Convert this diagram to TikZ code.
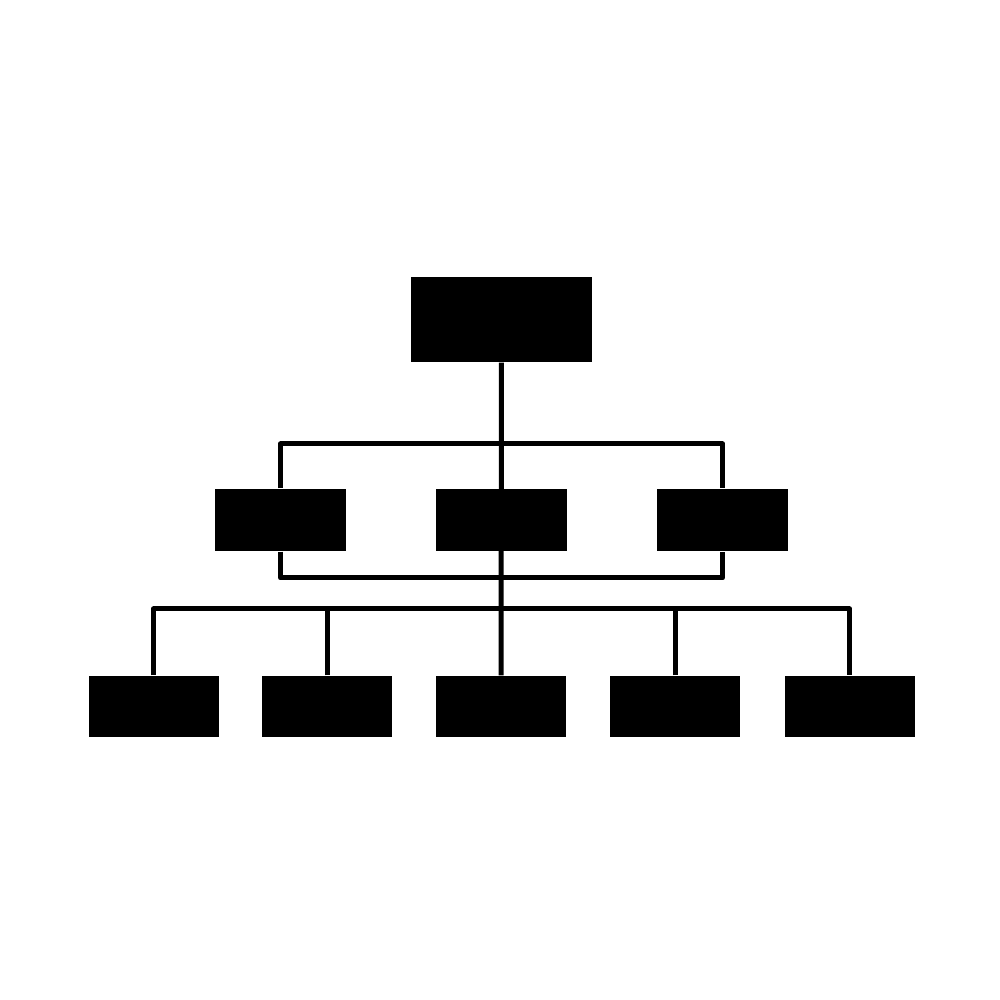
\documentclass[tikz,border=0pt]{standalone}
\usepackage{tikz}

\begin{document}
\begin{tikzpicture}
\tikzset{boite/.style={draw=none, fill=black, rectangle, inner sep=0pt, minimum width=1.3cm, minimum height=0.61cm},
         lien/.style={line width=0.05cm, line join=round}}
\useasboundingbox (0, 0) rectangle (10, 10);
\node[boite, minimum width=1.81cm, minimum height=0.85cm] (T) at (5.015, 6.805) {};
\node[boite, minimum width=1.31cm, minimum height=0.62cm] (M1) at (2.805, 4.80) {};
\node[boite, minimum width=1.31cm, minimum height=0.62cm] (M2) at (5.01, 4.80) {};
\node[boite, minimum width=1.31cm, minimum height=0.62cm] (M3) at (7.225, 4.80) {};
\node[boite] (B1) at (1.535, 2.935) {};
\node[boite] (B2) at (3.27, 2.935) {};
\node[boite] (B3) at (5.01, 2.935) {};
\node[boite] (B4) at (6.75, 2.935) {};
\node[boite] (B5) at (8.495, 2.935) {};
\coordinate (haut) at (5.01, 5.56);
\coordinate (bas) at (5.01, 4.22);
\coordinate (bus) at (5.01, 3.91);
\draw[lien] (M1) |- (haut) -| (M3);
\draw[lien] (M1) |- (bas) -| (M3);
\draw[lien] (T) -- (B3);
\draw[lien] (B1) |- (bus) -| (B5);
\draw[lien] (B2) |- (bus);
\draw[lien] (B4) |- (bus);
\end{tikzpicture}
\end{document}
